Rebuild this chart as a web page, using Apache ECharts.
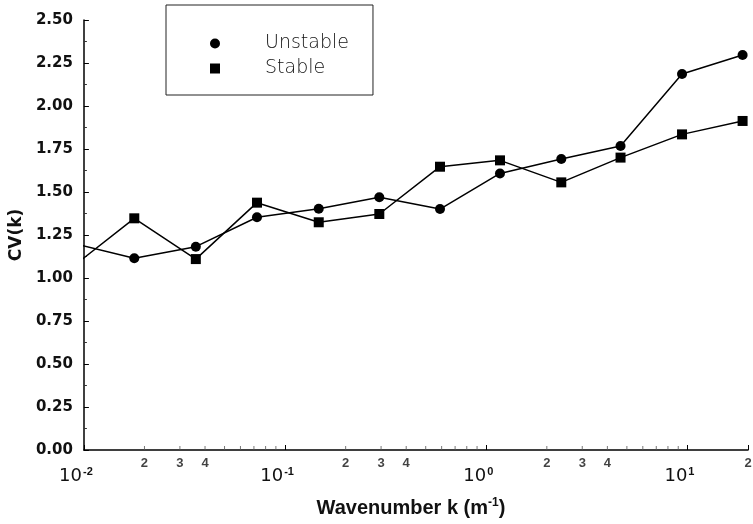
<!DOCTYPE html>
<html><head><meta charset="utf-8">
<script src="https://cdn.jsdelivr.net/npm/echarts@6/dist/echarts.min.js"></script>
<style>html,body{margin:0;padding:0;background:#fff}#c{width:753px;height:524px}</style>
</head><body><div id="c"></div>
<script>
// Wavenumber k (m^-1) for each measured point (first point lies just left of the axis and is clipped)
const wavenumber = [0.0089, 0.0178, 0.0360, 0.0725, 0.147, 0.294, 0.589, 1.17, 2.36, 4.65, 9.40, 18.8];
const unstableCV = [1.20, 1.115, 1.182, 1.353, 1.403, 1.469, 1.401, 1.608, 1.692, 1.767, 2.186, 2.297];
const stableCV   = [1.07, 1.347, 1.110, 1.438, 1.324, 1.372, 1.647, 1.684, 1.556, 1.700, 1.835, 1.913];

// axis ticks / labels
const xMin = 0.01, xMax = 20;
const yMin = 0, yMax = 2.5, yStep = 0.25;
const minorTickK = [0.02,0.03,0.04,0.05,0.06,0.07,0.08,0.09,
                    0.2,0.3,0.4,0.5,0.6,0.7,0.8,0.9,
                    2,3,4,5,6,7,8,9];
const minorLabelK = [0.02,0.03,0.04,0.2,0.3,0.4,2,3,4,20];
const minorLabelText = ['2','3','4','2','3','4','2','3','4','2'];

const pairs = (xs, ys) => xs.map((x, i) => [x, ys[i]]);

const chart = echarts.init(document.getElementById('c'), null, {renderer: 'canvas'});
chart.setOption({
  animation: false,
  backgroundColor: '#fff',
  grid: {left: 81, right: 5, top: 20, bottom: 74, containLabel: false},
  legend: {
    orient: 'vertical',
    left: 166, top: 5,
    padding: [29, 24, 17, 44],
    borderColor: '#222', borderWidth: 1,
    itemWidth: 10, itemHeight: 10, itemGap: 6,
    data: [{name: 'Unstable', icon: 'circle'}, {name: 'Stable', icon: 'rect'}],
    textStyle: {fontFamily: 'DejaVu Sans', fontWeight: 200, fontSize: 19, color: '#111',
                lineHeight: 18, padding: [0, 0, 0, 40]},
    itemStyle: {color: '#000'}
  },
  xAxis: {
    type: 'log', logBase: 10, min: xMin, max: xMax,
    name: '{a|Wavenumber k (m}{s|-1}{a|)}',
    nameLocation: 'middle', nameGap: 47,
    nameTextStyle: {
      padding: [0, 10, 0, 0],
      rich: {
        a: {fontFamily: 'Liberation Sans', fontWeight: 'bold', fontSize: 20, color: '#111', verticalAlign: 'bottom'},
        s: {fontFamily: 'Liberation Sans', fontWeight: 'bold', fontSize: 12, color: '#111', verticalAlign: 'top', padding: [0, 0, 9, 0]}
      }
    },
    axisLine: {lineStyle: {color: '#000', width: 1.5}},
    axisTick: {show: true, inside: true, length: 5, lineStyle: {color: '#000'}},
    splitLine: {show: false},
    minorTick: {show: false},
    axisLabel: {
      margin: 16,
      padding: [0, 16, 0, 0],
      formatter: function (v) {
        const e = Math.log10(v);
        if (Math.abs(e - Math.round(e)) > 1e-6) return '';
        return '{b|10}{s|' + Math.round(e) + '}';
      },
      rich: {
        b: {fontFamily: 'DejaVu Sans', fontSize: 18, color: '#111', verticalAlign: 'bottom'},
        s: {fontFamily: 'Liberation Sans', fontWeight: 'bold', fontSize: 11, color: '#111', verticalAlign: 'top', padding: [0, 0, 8, 1]}
      }
    }
  },
  yAxis: {
    type: 'value', min: yMin, max: yMax, interval: yStep,
    name: 'CV(k)', nameLocation: 'middle', nameGap: 57, nameRotate: 90,
    nameTextStyle: {fontFamily: 'DejaVu Sans', fontWeight: 'bold', fontSize: 17, color: '#111'},
    axisLine: {show: true, lineStyle: {color: '#000', width: 1.5}},
    axisTick: {show: true, inside: true, length: 5, lineStyle: {color: '#000'}},
    minorTick: {show: true, splitNumber: 2, length: 3, lineStyle: {color: '#333'}},
    splitLine: {show: false},
    axisLabel: {
      margin: 11,
      fontFamily: 'DejaVu Sans', fontWeight: 'bold', fontSize: 15, color: '#111',
      formatter: v => v.toFixed(2)
    }
  },
  series: [
    {
      name: 'Unstable', type: 'line', data: pairs(wavenumber, unstableCV),
      symbol: 'circle', symbolSize: 10, clip: true,
      lineStyle: {color: '#000', width: 1.5}, itemStyle: {color: '#000'}
    },
    {
      name: 'Stable', type: 'line', data: pairs(wavenumber, stableCV),
      symbol: 'rect', symbolSize: 10, clip: true,
      lineStyle: {color: '#000', width: 1.5}, itemStyle: {color: '#000'}
    },
    {
      name: 'minorTicks', type: 'scatter', silent: true, clip: false,
      data: minorTickK.map(k => [k, 0]),
      symbol: 'rect', symbolSize: [1, 4], symbolOffset: [0, -2],
      itemStyle: {color: '#555'}
    },
    {
      name: 'minorLabels', type: 'scatter', silent: true, clip: false,
      data: minorLabelK.map((k, i) => ({value: [k, 0], label: {formatter: minorLabelText[i]}})),
      symbolSize: 0,
      label: {show: true, position: 'bottom', distance: 7,
              fontFamily: 'Liberation Sans', fontWeight: 'bold', fontSize: 13, color: '#111'}
    }
  ]
});
</script></body></html>
